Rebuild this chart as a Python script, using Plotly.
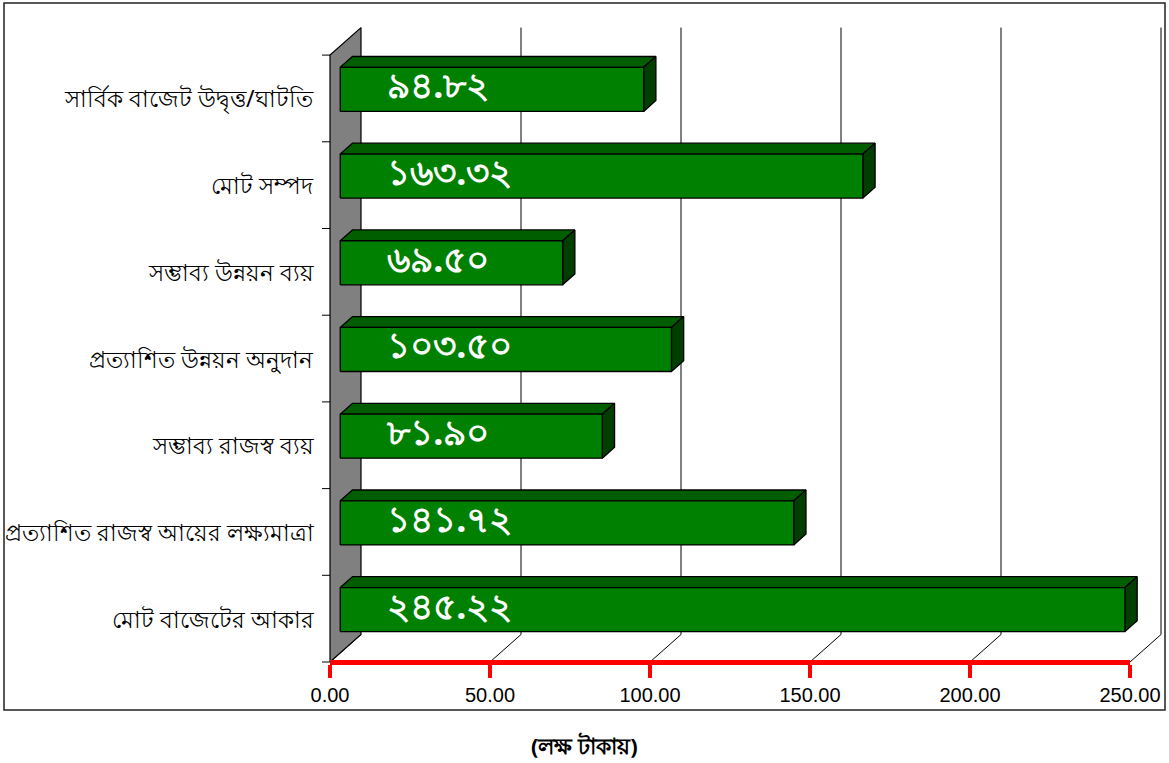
import plotly.graph_objects as go

# ---------------- data (top to bottom as in the chart) ----------------
categories = [
    "সার্বিক বাজেট উদ্বৃত্ত/ঘাটতি",
    "মোট সম্পদ",
    "সম্ভাব্য উন্নয়ন ব্যয়",
    "প্রত্যাশিত উন্নয়ন অনুদান",
    "সম্ভাব্য রাজস্ব ব্যয়",
    "প্রত্যাশিত রাজস্ব আয়ের লক্ষ্যমাত্রা",
    "মোট বাজেটের আকার",
]
values = [94.82, 163.32, 69.50, 103.50, 81.90, 141.72, 245.22]
x_ticks = [0, 50, 100, 150, 200, 250]
axis_title = "(লক্ষ টাকায়)"

# ---------------- layout constants (pixels) ----------------
W, H = 1169, 763
X0_PX, Y0_PX = 330, 662          # front-floor origin
PX_PER_UNIT = 3.2                # value units -> px
SLOT_PX = 86.7                   # category slot height
DEPTH_PX = (31.0, 27.5)          # full 3D depth offset (right, up)
D_FRONT, D_BACK = 0.33, 0.725    # bar depth position
HALF_H = 0.254                   # bar half height (slot units)

BN = str.maketrans("0123456789", "০১২৩৪৫৬৭৮৯")

cats = categories[::-1]
vals = values[::-1]
n = len(cats)
DX = DEPTH_PX[0] / PX_PER_UNIT
DY = DEPTH_PX[1] / SLOT_PX

xr = [(0 - X0_PX) / PX_PER_UNIT, (W - X0_PX) / PX_PER_UNIT]
yr = [-(H - Y0_PX) / SLOT_PX, Y0_PX / SLOT_PX]

fig = go.Figure()


def poly(xs, ys, fill, lw=1.3, lc="black"):
    fig.add_trace(go.Scatter(
        x=xs + [xs[0]], y=ys + [ys[0]], mode="lines", fill="toself",
        fillcolor=fill, line=dict(color=lc, width=lw), hoverinfo="skip",
        showlegend=False))


def lines(segs, color="black", width=1):
    xs, ys = [], []
    for (a, b), (c, d) in segs:
        xs += [a, c, None]
        ys += [b, d, None]
    fig.add_trace(go.Scatter(x=xs, y=ys, mode="lines",
                             line=dict(color=color, width=width),
                             hoverinfo="skip", showlegend=False))


xmax = x_ticks[-1]
# back-wall gridlines
lines([((t + DX, DY), (t + DX, n + DY)) for t in x_ticks[1:]])
# floor diagonals
lines([((t, 0), (t + DX, DY)) for t in x_ticks])
# left wall
poly([0, DX, DX, 0], [0, DY, n + DY, n], "#808080", lw=1.2)
# category tick marks on left
lines([((-8 / PX_PER_UNIT, k), (0, k)) for k in range(n + 1)])

# bars
bx = (D_BACK - D_FRONT) * DX
by = (D_BACK - D_FRONT) * DY
for i, v in enumerate(vals):
    yc = i + 0.5
    fx0 = D_FRONT * DX
    fx1 = v + D_FRONT * DX
    fy0 = yc - HALF_H + D_FRONT * DY
    fy1 = yc + HALF_H + D_FRONT * DY
    poly([fx0, fx0 + bx, fx1 + bx, fx1], [fy1, fy1 + by, fy1 + by, fy1], "#005E00")
    poly([fx1, fx1 + bx, fx1 + bx, fx1], [fy0, fy0 + by, fy1 + by, fy1], "#003F00")
    poly([fx0, fx1, fx1, fx0], [fy0, fy0, fy1, fy1], "#008000")

# value labels
fig.add_trace(go.Scatter(
    x=[D_FRONT * DX + 47 / PX_PER_UNIT] * n,
    y=[i + 0.5 + D_FRONT * DY for i in range(n)],
    mode="text", text=[f"<b>{v:.2f}</b>".translate(BN) for v in vals],
    textposition="middle right",
    textfont=dict(color="white", size=36, family="Noto Sans"),
    hoverinfo="skip", showlegend=False))

# dummy trace for the visible value axis
fig.add_trace(go.Scatter(x=[0], y=[0], xaxis="x2", yaxis="y", mode="markers",
                         marker=dict(opacity=0), hoverinfo="skip",
                         showlegend=False))

annotations = [
    dict(x=0, y=i + 0.5, xref="x", yref="y", text=c, showarrow=False,
         xanchor="right", yanchor="middle", xshift=-14,
         font=dict(size=23, color="black", family="Noto Sans"))
    for i, c in enumerate(cats)
]
annotations.append(dict(x=0.5, y=(H - 745) / H, xref="paper", yref="paper",
                        text=f"<b>{axis_title}</b>", showarrow=False,
                        xanchor="center", yanchor="middle",
                        font=dict(size=22, color="black", family="Noto Sans")))

fig.update_layout(
    width=W, height=H,
    margin=dict(l=0, r=0, t=0, b=0, pad=0, autoexpand=False),
    paper_bgcolor="white", plot_bgcolor="rgba(0,0,0,0)",
    hovermode=False, showlegend=False,
    xaxis=dict(range=xr, visible=False, fixedrange=True, automargin=False),
    yaxis=dict(range=yr, visible=False, fixedrange=True, automargin=False),
    xaxis2=dict(anchor="free",
                position=(H - Y0_PX) / H,
                domain=[X0_PX / W, (X0_PX + xmax * PX_PER_UNIT) / W],
                range=[0, xmax], tickvals=x_ticks, tickformat=".2f",
                showline=True, linecolor="red", linewidth=5,
                ticks="outside", ticklen=13, tickwidth=3.5, tickcolor="red",
                showgrid=False, zeroline=False, automargin=False,
                tickfont=dict(size=20, color="black", family="Liberation Sans"),
                fixedrange=True),
    annotations=annotations,
    shapes=[dict(type="rect", xref="paper", yref="paper",
                 x0=4 / W, x1=1165 / W, y0=(H - 710) / H, y1=(H - 3) / H,
                 line=dict(color="#222", width=1.5))],
)

fig.write_html("out.html", config={"displayModeBar": False},
               post_script="document.body.style.margin='0';")
